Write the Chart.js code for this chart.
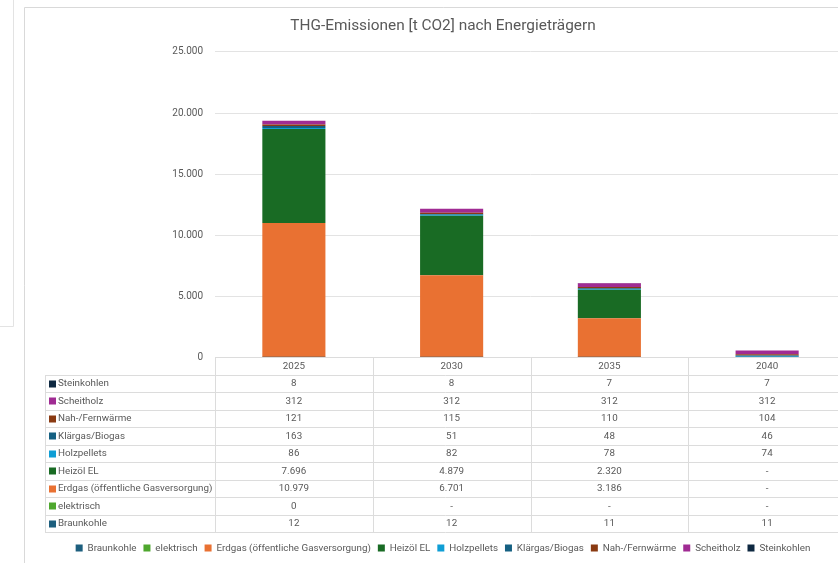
<!DOCTYPE html>
<html>
<head>
<meta charset="utf-8">
<script src="https://cdn.jsdelivr.net/npm/chart.js@4.4.1/dist/chart.umd.min.js"></script>
<style>
  html, body { margin: 0; padding: 0; background: #fff; overflow: hidden; }
  #wrap { position: absolute; left: 0; top: 0; width: 862px; height: 563px; }
</style>
</head>
<body>
<div id="wrap"><canvas id="thg-chart"></canvas></div>
<script>
// categories
const years = ["2025", "2030", "2035", "2040"];

// series values (null = "-")
const braunkohle   = [12, 12, 11, 11];
const elektrisch   = [0, null, null, null];
const erdgas       = [10979, 6701, 3186, null];
const heizoel      = [7696, 4879, 2320, null];
const holzpellets  = [86, 82, 78, 74];
const klaergas     = [163, 51, 48, 46];
const fernwaerme   = [121, 115, 110, 104];
const scheitholz   = [312, 312, 312, 312];
const steinkohlen  = [8, 8, 7, 7];

const seriesNames = ["Braunkohle", "elektrisch", "Erdgas (öffentliche Gasversorgung)", "Heizöl EL",
  "Holzpellets", "Klärgas/Biogas", "Nah-/Fernwärme", "Scheitholz", "Steinkohlen"];
const seriesData = [braunkohle, elektrisch, erdgas, heizoel, holzpellets, klaergas, fernwaerme, scheitholz, steinkohlen];
const seriesColors = ["#1d5f7e", "#4ea72e", "#e97132", "#196b24", "#0f9ed5", "#156082", "#8a3a12", "#a02b93", "#0e2841"];

// y-axis ticks
const yMax = 25000;
const yStep = 5000;

const FONT = "Roboto, 'Liberation Sans', sans-serif";
const GREY = "#595959";
const LINE = "#dcdcdc";
const TABLE_H = 175;

function fmt(v) {
  if (v === null || v === undefined) return "-";
  return String(v).replace(/\B(?=(\d{3})+(?!\d))/g, ".");
}

const framePlugin = {
  id: 'frame',
  beforeDraw(chart) {
    const ctx = chart.ctx;
    ctx.save();
    ctx.fillStyle = "#fff";
    ctx.fillRect(0, 0, chart.width, chart.height);
    ctx.strokeStyle = "#d9d9d9";
    ctx.lineWidth = 1;
    ctx.beginPath();
    ctx.moveTo(24.5, chart.height);
    ctx.lineTo(24.5, 7.5);
    ctx.lineTo(chart.width, 7.5);
    ctx.stroke();
    ctx.strokeStyle = "#e3e3e3";
    ctx.beginPath();
    ctx.moveTo(13.5, 0);
    ctx.lineTo(13.5, 326.5);
    ctx.lineTo(0, 326.5);
    ctx.stroke();
    ctx.restore();
  }
};

const tablePlugin = {
  id: 'dataTable',
  afterDraw(chart) {
    const { ctx, chartArea, scales } = chart;
    const xs = scales.x;
    const top = chartArea.bottom;
    const nRows = seriesNames.length;
    const rowH = TABLE_H / (nRows + 1);
    const left = 45;
    const half = (chartArea.right - chartArea.left) / years.length / 2;
    const bottom = top + rowH * (nRows + 1);

    ctx.save();
    ctx.strokeStyle = LINE;
    ctx.lineWidth = 1;
    ctx.beginPath();
    ctx.moveTo(chartArea.left, Math.round(top) + 0.5);
    ctx.lineTo(chartArea.right, Math.round(top) + 0.5);
    for (let r = 1; r <= nRows + 1; r++) {
      const y = Math.round(top + r * rowH) + 0.5;
      ctx.moveTo(left, y);
      ctx.lineTo(chartArea.right, y);
    }
    ctx.moveTo(left + 0.5, Math.round(top + rowH));
    ctx.lineTo(left + 0.5, Math.round(bottom));
    ctx.moveTo(Math.round(chartArea.left) + 0.5, Math.round(top));
    ctx.lineTo(Math.round(chartArea.left) + 0.5, Math.round(bottom));
    years.forEach((y, i) => {
      const xr = Math.round(xs.getPixelForValue(i) + half) + 0.5;
      ctx.moveTo(xr, Math.round(top));
      ctx.lineTo(xr, Math.round(bottom));
    });
    ctx.stroke();

    ctx.font = "9.8px " + FONT;
    ctx.fillStyle = GREY;
    ctx.textBaseline = "middle";
    ctx.textAlign = "center";
    years.forEach((y, i) => {
      ctx.fillText(y, xs.getPixelForValue(i), top + rowH / 2 + 0.5);
    });

    for (let r = 0; r < nRows; r++) {
      const s = nRows - 1 - r;
      const cy = top + (r + 1) * rowH + rowH / 2 + 0.5;
      ctx.fillStyle = seriesColors[s];
      ctx.fillRect(49, Math.round(cy) - 3.5, 7, 7);
      ctx.fillStyle = GREY;
      ctx.textAlign = "left";
      ctx.fillText(seriesNames[s], 58, cy);
      ctx.textAlign = "center";
      seriesData[s].forEach((v, i) => {
        ctx.fillText(fmt(v), xs.getPixelForValue(i), cy);
      });
    }
    ctx.restore();
  }
};

new Chart(document.getElementById("thg-chart"), {
  type: 'bar',
  data: {
    labels: years,
    datasets: seriesNames.map((name, i) => ({
      label: name,
      data: seriesData[i],
      backgroundColor: seriesColors[i],
      borderWidth: 0,
      categoryPercentage: 1.0,
      barPercentage: 0.4
    }))
  },
  plugins: [framePlugin, tablePlugin],
  options: {
    responsive: true,
    maintainAspectRatio: false,
    animation: false,
    devicePixelRatio: 1,
    layout: { padding: { left: 24, right: 0, top: 0, bottom: 0 } },
    plugins: {
      title: {
        display: true,
        text: 'THG-Emissionen [t CO2] nach Energieträgern',
        color: GREY,
        font: { family: FONT, size: 15.4, weight: 'normal' },
        padding: { top: 17, bottom: 16.5 }
      },
      legend: {
        position: 'bottom',
        labels: {
          color: GREY,
          font: { family: FONT, size: 9.8 },
          boxWidth: 7,
          boxHeight: 7,
          padding: 7
        }
      },
      tooltip: { enabled: false }
    },
    scales: {
      x: {
        stacked: true,
        grid: { display: false },
        border: { display: false },
        ticks: { display: false },
        afterFit(scale) { scale.height = TABLE_H + 4; }
      },
      y: {
        stacked: true,
        min: 0,
        max: yMax,
        grid: { color: "#e3e3e3", drawTicks: false },
        border: { display: false },
        ticks: {
          stepSize: yStep,
          padding: 12,
          color: GREY,
          font: { family: FONT, size: 10 },
          callback: v => fmt(v)
        },
        afterFit(scale) { scale.width = 191; }
      },
      yRight: {
        type: 'linear',
        position: 'right',
        display: true,
        grid: { display: false },
        border: { display: false },
        ticks: { display: false },
        afterFit(scale) { scale.width = 16; }
      }
    }
  }
});
</script>
</body>
</html>
